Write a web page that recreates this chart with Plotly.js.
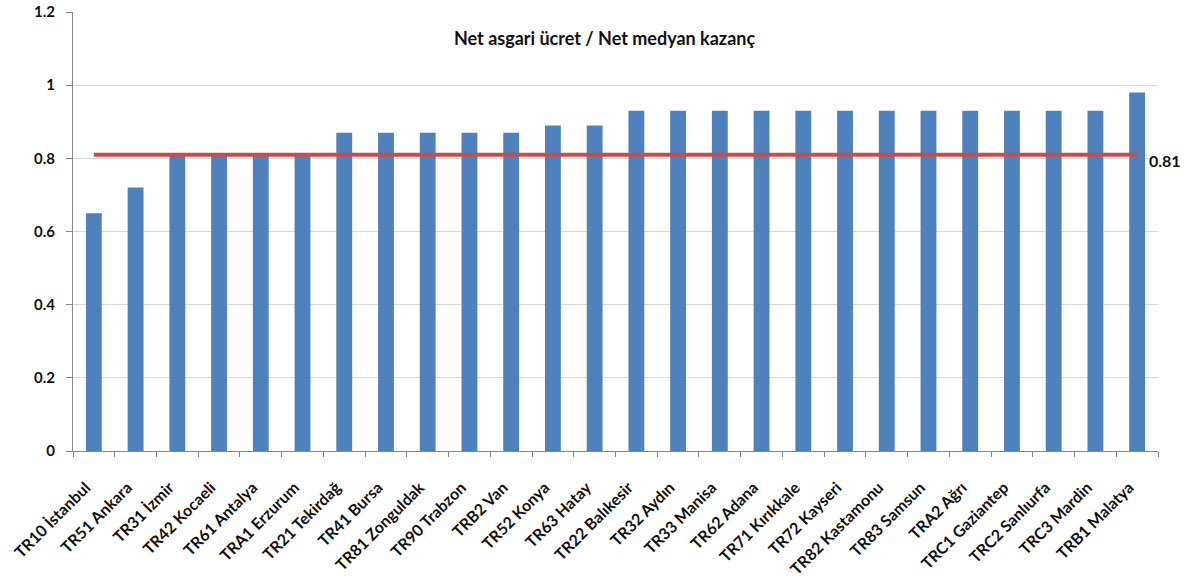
<!DOCTYPE html>
<html>
<head>
<meta charset="utf-8">
<script src="https://cdn.plot.ly/plotly-3.0.1.min.js"></script>
<style>html,body{margin:0;padding:0;background:#fff;}#chart{width:1196px;height:586px;}</style>
</head>
<body>
<div id="chart"></div>
<script>
var regions = ["TR10 İstanbul","TR51 Ankara","TR31 İzmir","TR42 Kocaeli","TR61 Antalya","TRA1 Erzurum","TR21 Tekirdağ","TR41 Bursa","TR81 Zonguldak","TR90 Trabzon","TRB2 Van","TR52 Konya","TR63 Hatay","TR22 Balıkesir","TR32 Aydın","TR33 Manisa","TR62 Adana","TR71 Kırıkkale","TR72 Kayseri","TR82 Kastamonu","TR83 Samsun","TRA2 Ağrı","TRC1 Gaziantep","TRC2 Sanlıurfa","TRC3 Mardin","TRB1 Malatya"];
var ratio = [0.65,0.72,0.81,0.81,0.81,0.81,0.87,0.87,0.87,0.87,0.87,0.89,0.89,0.93,0.93,0.93,0.93,0.93,0.93,0.93,0.93,0.93,0.93,0.93,0.93,0.98];
var average = 0.81;
var yTicks = [0,0.2,0.4,0.6,0.8,1,1.2];
var yTickText = ["0","0.2","0.4","0.6","0.8","1","1.2"];
var titleText = "Net asgari ücret / Net medyan kazanç";

var fontFam = "Lato, 'Open Sans', sans-serif";

var traces = [
  {type:"bar", x:regions, y:ratio, marker:{color:"#4F81BD"}, hoverinfo:"x+y"},
  {type:"scatter", mode:"lines", x:regions, y:regions.map(function(){return average;}), line:{color:"#C0504D", width:4}, hoverinfo:"y"}
];

var layout = {
  width:1196, height:586,
  margin:{l:73, r:38, t:12, b:135},
  paper_bgcolor:"#fff", plot_bgcolor:"#fff",
  showlegend:false,
  bargap:0.62,
  font:{family:fontFam, color:"#000"},
  xaxis:{
    type:"category",
    range:[-0.5, regions.length-0.5],
    autorange:false,
    tickangle:-45,
    tickfont:{family:fontFam, size:16, color:"#111", weight:"bold"},
    showline:true, linecolor:"#888", linewidth:1,
    ticks:"outside", tickson:"boundaries", ticklen:5, tickcolor:"#888",
    ticklabelstandoff:20,
    ticklabelshift:-8,
    showgrid:false
  },
  yaxis:{
    range:[0,1.2],
    autorange:false,
    tickvals:yTicks, ticktext:yTickText,
    tickfont:{family:fontFam, size:15, color:"#111", weight:"bold"},
    showline:true, linecolor:"#888", linewidth:1,
    ticks:"outside", ticklen:6, tickcolor:"#888",
    ticklabelstandoff:8,
    showgrid:true, gridcolor:"#D9D9D9", gridwidth:1,
    zeroline:false
  },
  annotations:[
    {text:titleText, xref:"paper", yref:"paper", x:0.49, y:0.94, xanchor:"center", yanchor:"middle", showarrow:false,
     font:{family:fontFam, size:18, color:"#111", weight:"bold"}},
    {text:String(average), xref:"x", yref:"y", x:regions[regions.length-1], y:average, xanchor:"left", yanchor:"middle",
     xshift:10, yshift:-6, showarrow:false, font:{family:fontFam, size:16, color:"#111", weight:"bold"}}
  ]
};

Plotly.newPlot("chart", traces, layout, {displayModeBar:false, staticPlot:true});
</script>
</body>
</html>
